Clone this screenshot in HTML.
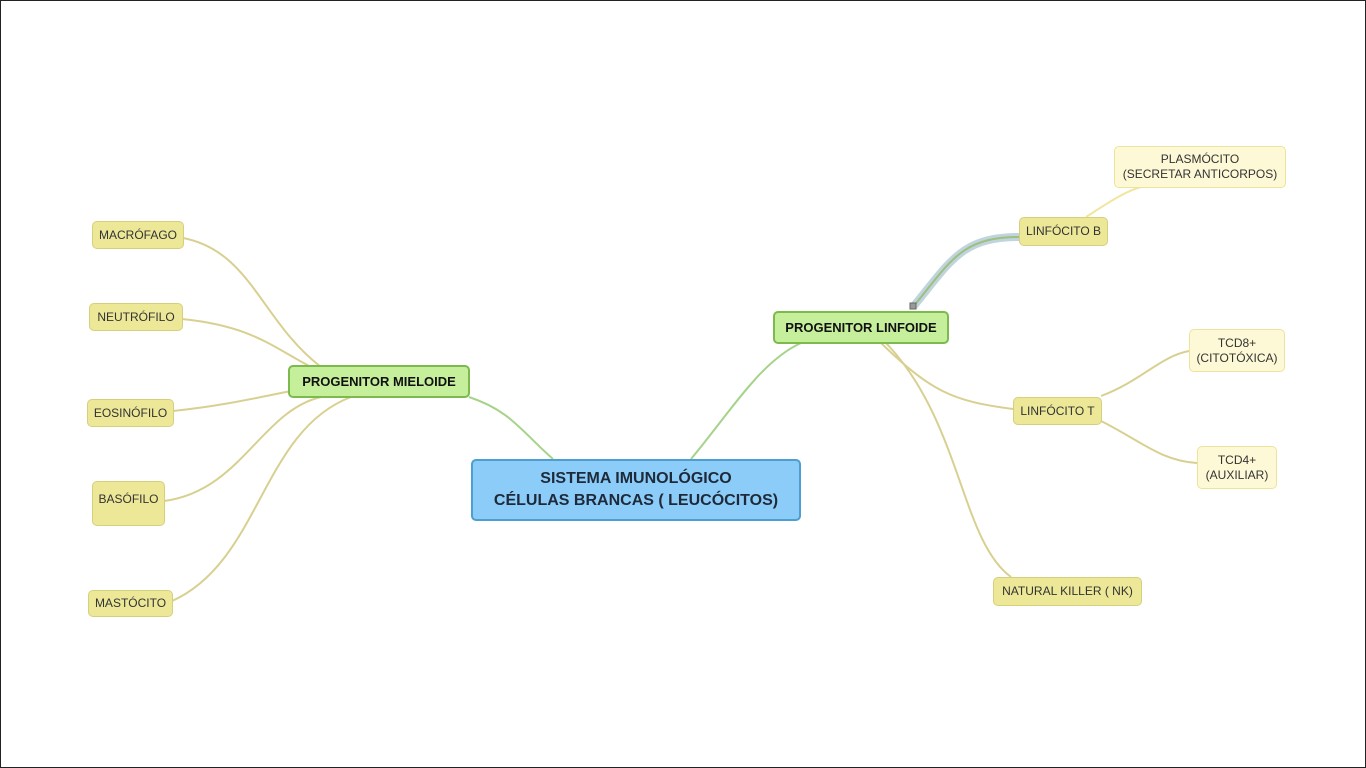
<!DOCTYPE html>
<html><head><meta charset="utf-8"><style>
html,body{margin:0;padding:0;background:#fff}
#c{position:relative;width:1366px;height:768px;overflow:hidden;box-sizing:border-box;border:1px solid #222;font-family:"Liberation Sans",sans-serif}
.n{position:absolute;box-sizing:border-box;display:flex;align-items:center;justify-content:center;text-align:center;border-radius:5px;font-size:12px;color:#333;line-height:15px}
.y{background:#ece898;border:1px solid #d6cf7c}
.p{background:#fdf9d6;border:1px solid #ece49a}
.g{background:#c6ef9c;border:2px solid #7dba4e;font-weight:bold;color:#111;font-size:13px}
svg{position:absolute;left:0;top:0}
</style></head><body><div id="c">
<svg width="1366" height="768" fill="none">
<g stroke="#d8d090" stroke-width="2">
<path d="M182 237 C250 250 260 320 320 366"/>
<path d="M181 318 C250 325 270 345 310 366"/>
<path d="M172 410 C220 405 250 398 290 390"/>
<path d="M163 500 C240 490 260 410 320 396"/>
<path d="M171 600 C260 560 260 430 350 396"/>
<path d="M880 342 C930 390 950 400 1012 408"/>
<path d="M885 342 C960 420 960 540 1010 576"/>
<path d="M1100 395 C1140 380 1160 355 1188 350"/>
<path d="M1100 420 C1140 440 1160 460 1196 462"/>
</g>
<g stroke="#f0e6a0" stroke-width="2">
<path d="M1085 216 C1110 200 1125 190 1140 186"/>
</g>
<path d="M912 306 C950 260 960 236 1018 236" stroke="#c0d4de" stroke-width="8"/>
<path d="M912 306 C950 260 960 236 1018 236" stroke="#9fbf7e" stroke-width="2"/>
<rect x="909" y="302" width="6" height="6" fill="#999" stroke="#666"/>
<g stroke="#a6d38a" stroke-width="2">
<path d="M468 396 C510 410 520 430 552 458"/>
<path d="M690 458 C730 410 760 360 800 342"/>
</g>
</svg>
<div class="n" style="left:470px;top:458px;width:330px;height:62px;background:#8cccf8;border:2px solid #4c9fcf;font-weight:bold;font-size:16px;line-height:22px;color:#1e2a3a">SISTEMA IMUNOLÓGICO<br>CÉLULAS BRANCAS ( LEUCÓCITOS)</div>
<div class="n g" style="left:287px;top:364px;width:182px;height:33px">PROGENITOR MIELOIDE</div>
<div class="n g" style="left:772px;top:310px;width:176px;height:33px">PROGENITOR LINFOIDE</div>
<div class="n y" style="left:91px;top:220px;width:92px;height:28px">MACRÓFAGO</div>
<div class="n y" style="left:88px;top:302px;width:94px;height:28px">NEUTRÓFILO</div>
<div class="n y" style="left:86px;top:398px;width:87px;height:28px">EOSINÓFILO</div>
<div class="n y" style="left:91px;top:480px;width:73px;height:45px;align-items:flex-start;padding-top:10px">BASÓFILO</div>
<div class="n y" style="left:87px;top:589px;width:85px;height:27px">MASTÓCITO</div>
<div class="n y" style="left:1018px;top:216px;width:89px;height:29px">LINFÓCITO B</div>
<div class="n p" style="left:1113px;top:145px;width:172px;height:42px">PLASMÓCITO<br>(SECRETAR ANTICORPOS)</div>
<div class="n y" style="left:1012px;top:396px;width:89px;height:28px">LINFÓCITO T</div>
<div class="n p" style="left:1188px;top:328px;width:96px;height:43px">TCD8+<br>(CITOTÓXICA)</div>
<div class="n p" style="left:1196px;top:445px;width:80px;height:43px">TCD4+<br>(AUXILIAR)</div>
<div class="n y" style="left:992px;top:576px;width:149px;height:29px">NATURAL KILLER ( NK)</div>
</div></body></html>
